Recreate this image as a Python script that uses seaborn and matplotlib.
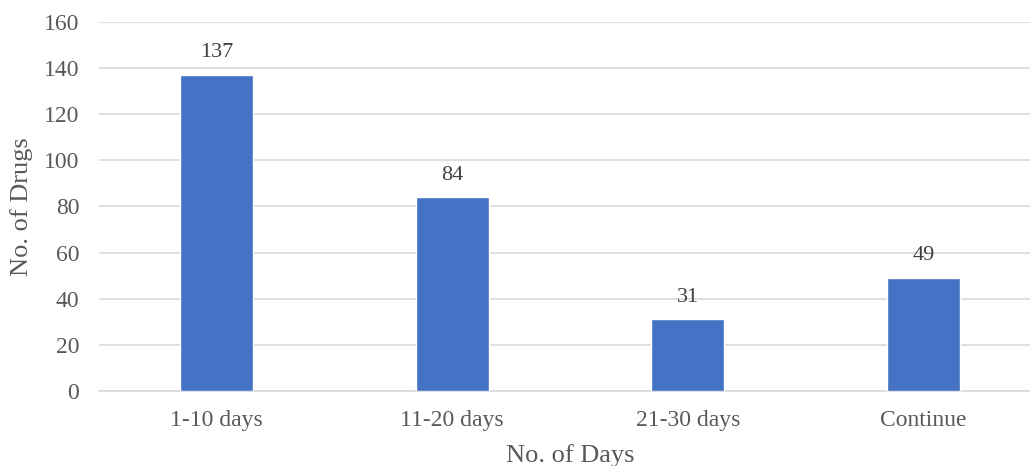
import matplotlib
matplotlib.use("Agg")
import matplotlib.pyplot as plt
import seaborn as sns
import pandas as pd
import numpy as np

categories = ["1-10 days", "11-20 days", "21-30 days", "Continue"]
values = [137, 84, 31, 49]
yticks = [0, 20, 40, 60, 80, 100, 120, 140, 160]

sns.set_theme(style="white")
plt.rcParams['font.family'] = ['Liberation Serif', 'DejaVu Serif']

df = pd.DataFrame({"days": categories, "drugs": values})

fig = plt.figure(figsize=(10.30, 4.66), dpi=100)
ax = fig.add_axes([0.0958, 0.161, 0.915, 0.792])
sns.barplot(data=df, x="days", y="drugs", color="#4472C4", width=0.31,
            saturation=1, ax=ax, zorder=3)

ax.set_ylim(0, 160)
ax.set_xlim(-0.5, len(categories) - 0.5)
ax.set_yticks(yticks)
ax.yaxis.grid(True, color="#D9D9D9", linewidth=1.2, zorder=0)
ax.set_axisbelow(True)
for s in ["top", "right", "left"]:
    ax.spines[s].set_visible(False)
ax.spines["bottom"].set_color("#D9D9D9")
ax.spines["bottom"].set_linewidth(1.2)

ax.tick_params(axis="y", length=0, labelsize=17, labelcolor="#595959", pad=14)
ax.tick_params(axis="x", length=0, labelsize=17, labelcolor="#595959", pad=14)
# category boundary tick marks
bounds = np.arange(-0.5, len(categories), 1.0)
ax.set_xticks(bounds, minor=True)
ax.tick_params(axis="x", which="minor", length=6, width=1.2, color="#D9D9D9")

for i, v in enumerate(values):
    ax.annotate(str(v), (i, v), xytext=(0, 9), textcoords="offset points",
                ha="center", va="bottom", fontsize=16, color="#404040")

ax.set_xlabel("No. of Days", fontsize=19, color="#595959", labelpad=9)
ax.set_ylabel("No. of Drugs", fontsize=19, color="#595959", labelpad=8)

fig.savefig("out.png", dpi=100)
